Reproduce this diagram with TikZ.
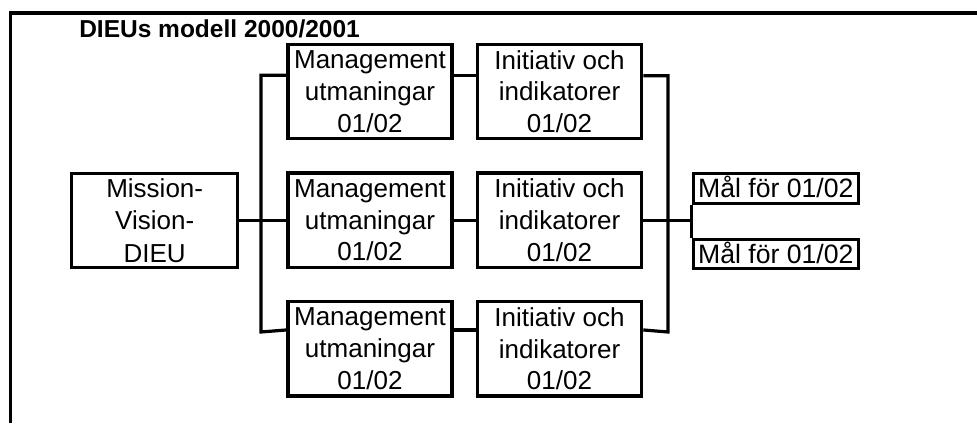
\documentclass[tikz,border=0pt]{standalone}
\usepackage{fontspec}
\setmainfont{Liberation Sans}
\begin{document}
\begin{tikzpicture}[x=1pt,y=-1pt,line width=3.2pt,
  box/.style={draw,inner sep=0pt,align=center,minimum height=94.5pt,
    font=\fontsize{26}{31.7}\selectfont},
  mbox/.style={box,minimum width=164pt},
  ibox/.style={box,minimum width=164.4pt},
  malbox/.style={draw,inner sep=0pt,minimum width=165pt,minimum height=30pt,
    text height=18.6pt,text depth=0pt,font=\fontsize{26.6}{30}\selectfont}]
\useasboundingbox (0,0) rectangle (977,423);
% frame
\draw (10.3,423) -- (10.3,13) -- (977,13);
\node[anchor=base west,inner sep=0pt,font=\bfseries\fontsize{24.5}{28}\selectfont] (title) at (77.7,37) {DIEUs modell 2000/2001};
% boxes
\node[box,minimum width=166pt,minimum height=94pt,font=\fontsize{26}{32.5}\selectfont] (mission) at (154.7,220.3) {Mission-\\Vision-\\DIEU};
\node[mbox] (m1) at (370,91.6) {Management\\utmaningar\\01/02};
\node[mbox] (m2) at (370,220.3) {Management\\utmaningar\\01/02};
\node[mbox] (m3) at (370,348.8) {Management\\utmaningar\\01/02};
\node[ibox] (i1) at (559.5,91.6) {Initiativ och\\indikatorer\\01/02};
\node[ibox] (i2) at (559.5,220.3) {Initiativ och\\indikatorer\\01/02};
\node[ibox] (i3) at (559.5,348.8) {Initiativ och\\indikatorer\\01/02};
\node[malbox] (mal1) at (775.8,188.3) {Mål för 01/02};
\node[malbox,minimum height=29pt] (mal2) at (775.8,253.8) {Mål för 01/02};
% trunk corners
\coordinate (lb) at (261,332);
\coordinate (rb) at (668,332);
% connectors
\draw (mission.east) -- (m2.west);
\draw ([yshift=-32.5pt]m1.north west) -| (lb) -- ([yshift=-30pt]m3.north west);
\draw ([yshift=-32.5pt]m1.north east) -- ([yshift=-32.5pt]i1.north west);
\draw (m2.east) -- (i2.west);
\draw ([yshift=-30pt]m3.north east) -- ([yshift=-30pt]i3.north west);
\draw ([yshift=-33pt]i1.north east) -| (rb) -- ([yshift=-30pt]i3.north east);
\draw (i2.east) -- (mal1.south west |- i2.east);
\draw (mal1.south west) -- (mal2.north west);
\end{tikzpicture}
\end{document}
